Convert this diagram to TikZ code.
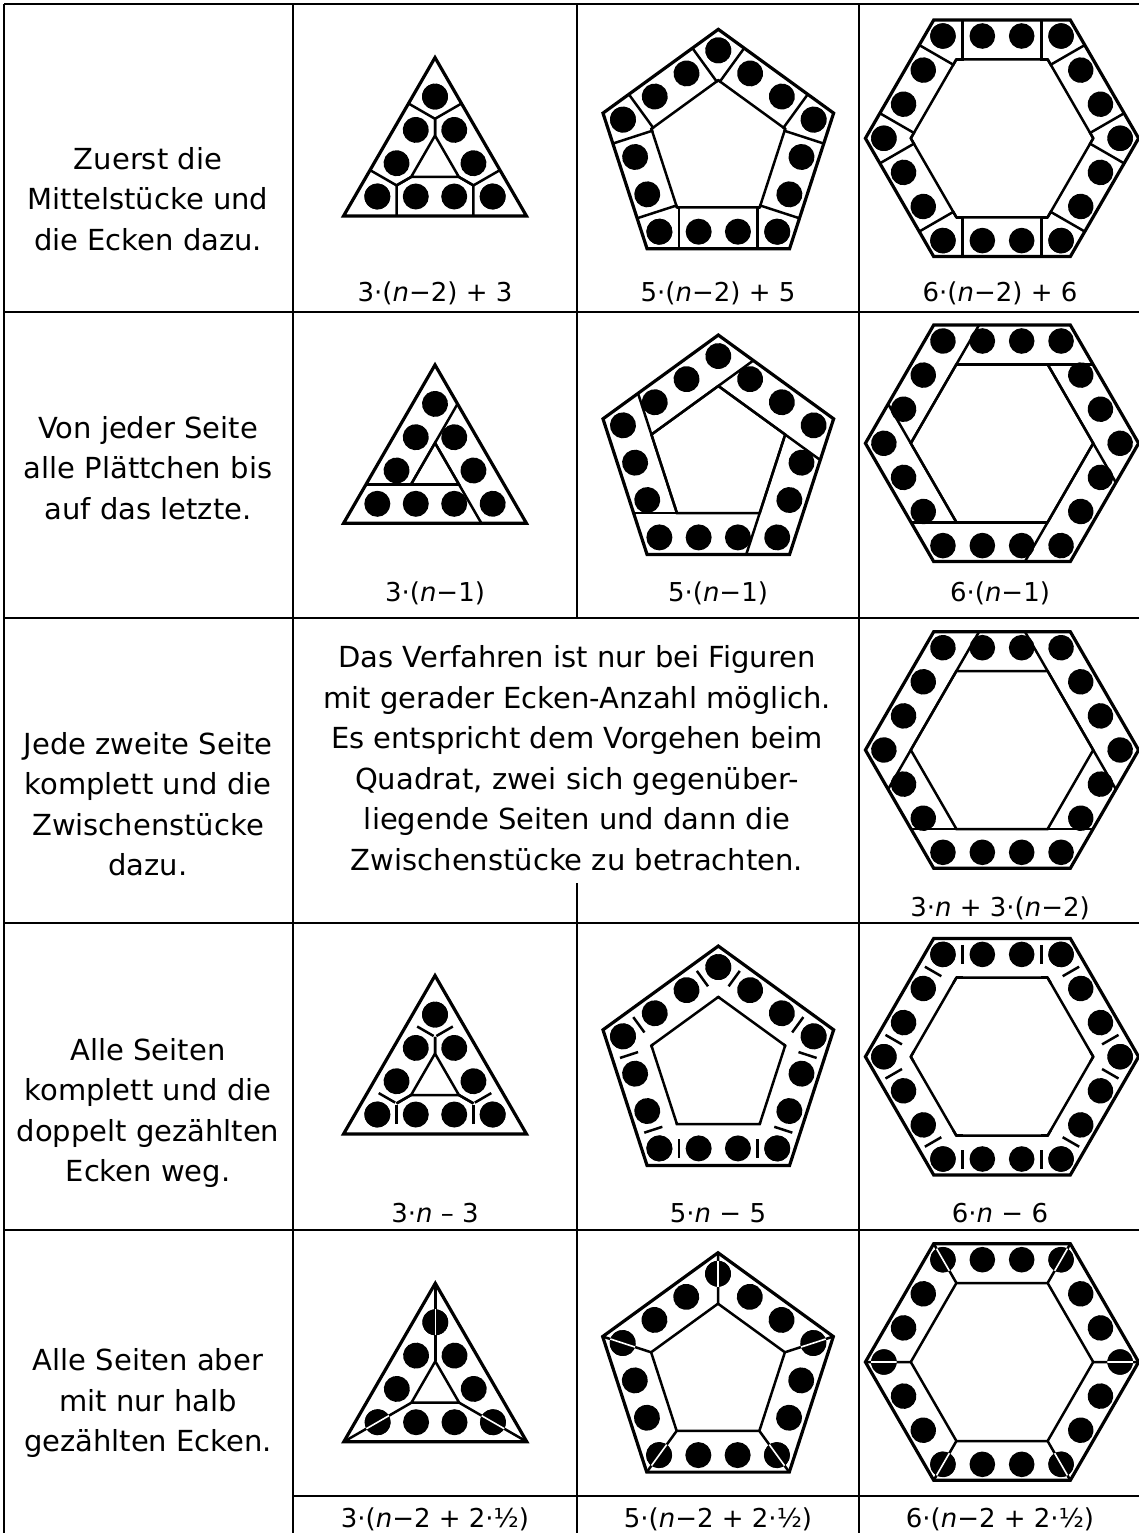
\documentclass[tikz,border=0pt]{standalone}
\usepackage{fontspec}
\setmainfont{DejaVu Sans}

\newcommand{\rgset}[5]{%
  \pgfmathtruncatemacro\rgKK{#1-1}%
  \pgfmathsetmacro\rgA{#2}%
  \pgfmathsetmacro\rgR{#5}%
  \pgfmathsetmacro\rgDa{360/#1}%
  \pgfmathsetmacro\rgAo{-90-180/#1}%
  \pgfmathsetmacro\rgT{tan(180/#1)}%
  \pgfmathsetmacro\rgI{#2-#3}%
  \pgfmathsetmacro\rgMid{#2-#4}%
  \pgfmathsetmacro\rgHO{#2*\rgT}%
  \pgfmathsetmacro\rgHI{\rgI*\rgT}%
  \pgfmathsetmacro\rgHM{\rgMid*\rgT}%
  \pgfmathsetmacro\rgRo{#2/cos(180/#1)}%
  \pgfmathsetmacro\rgRi{\rgI/cos(180/#1)}%
  \pgfmathsetmacro\rgOx{-\rgHO+#3*cot(180-360/#1)}%
  \pgfmathsetmacro\rgOxr{\rgHO-#3*cot(180-360/#1)}%
  \pgfmathsetmacro\rgS{2*\rgHM/3}%
  \pgfmathsetmacro\rgJ{max(\rgI,\rgS*cot(180/#1))}%
  \pgfmathsetmacro\rgTa{\rgMid+9.5}%
  \pgfmathsetmacro\rgTb{\rgMid-9.5}%
  \pgfmathsetmacro\rgWx{#5*cos(-90+180/#1)}%
  \pgfmathsetmacro\rgWy{#5*sin(-90+180/#1)}%
  \pgfmathsetmacro\rgWax{\rgHM+\rgWx}%
  \pgfmathsetmacro\rgWay{-\rgMid+\rgWy}%
  \pgfmathsetmacro\rgWbx{\rgHM-\rgWx}%
  \pgfmathsetmacro\rgWby{-\rgMid-\rgWy}%
}
\newcommand{\rgcorner}{%
  \draw[innerline] (\rgS,-\rgA) -- (\rgS,-\rgJ) -- (\rgHI,-\rgI);
  \draw[innerline] (-\rgS,-\rgA) -- (-\rgS,-\rgJ) -- (-\rgHI,-\rgI);
  \foreach \u in {-1,-1/3,1/3,1} \fill[chip] (\u*\rgHM,-\rgMid) circle (\rgR);}
\newcommand{\rgpinwheel}{%
  \draw[innerline] (\rgOx,-\rgI) -- (\rgHI,-\rgI);
  \foreach \u in {-1,-1/3,1/3} \fill[chip] (\u*\rgHM,-\rgMid) circle (\rgR);}
\newcommand{\rgalternate}{%
  \ifodd\j\relax
    \foreach \u in {-1/3,1/3} \fill[chip] (\u*\rgHM,-\rgMid) circle (\rgR);
  \else
    \draw[innerline] (\rgOx,-\rgI) -- (\rgOxr,-\rgI);
    \foreach \u in {-1,-1/3,1/3,1} \fill[chip] (\u*\rgHM,-\rgMid) circle (\rgR);
  \fi}
\newcommand{\rgdouble}{%
  \draw[innerline] (\rgS,-\rgTa) -- (\rgS,-\rgTb);
  \draw[innerline] (-\rgS,-\rgTa) -- (-\rgS,-\rgTb);
  \draw[innerline] (\rgS,-\rgJ) -- (\rgHI,-\rgI);
  \draw[innerline] (-\rgS,-\rgJ) -- (-\rgHI,-\rgI);
  \foreach \u in {-1,-1/3,1/3,1} \fill[chip] (\u*\rgHM,-\rgMid) circle (\rgR);}
\newcommand{\rghalf}{%
  \draw[innerline] (\rgHO,-\rgA) -- (\rgHI,-\rgI);
  \foreach \u in {-1,-1/3,1/3,1} \fill[chip] (\u*\rgHM,-\rgMid) circle (\rgR);}
\newcommand{\rghalftop}{%
  \draw[splitline] (\rgWax,\rgWay) -- (\rgWbx,\rgWby);}
\newcommand{\rgfig}[3]{%
  \begin{scope}[shift={(#2,#3)}]
    \draw[outerline] (\rgAo:\rgRo) \foreach \q in {1,...,\rgKK}{ -- ({\rgAo+\q*\rgDa}:\rgRo)} -- cycle;
    \draw[innerline] (\rgAo:\rgRi) \foreach \q in {1,...,\rgKK}{ -- ({\rgAo+\q*\rgDa}:\rgRi)} -- cycle;
    \foreach \j in {0,...,\rgKK}{\begin{scope}[rotate=\j*\rgDa]\csname rg#1\endcsname\end{scope}}
    \foreach \j in {0,...,\rgKK}{\begin{scope}[rotate=\j*\rgDa]\csname rg#1top\endcsname\end{scope}}
  \end{scope}}

\begin{document}
\begin{tikzpicture}[x=1pt,y=1pt,tabline/.style={line width=2pt},
  outerline/.style={line width=3.2pt},innerline/.style={line width=2.5pt},
  chip/.style={fill=black},splitline/.style={white,line width=1.6pt}]
  \tikzstyle{every node}=[font=\fontsize{29}{40.5}\selectfont,inner sep=0pt,align=center]
  \tikzstyle{formula}=[anchor=base,font=\fontsize{26}{32}\selectfont]
\useasboundingbox (0,0) rectangle (1139,-1533);
\fill[white] (0,0) rectangle (1139,-1533);

\draw[tabline] (4,-4) -- (1139,-4);
\draw[tabline] (4,-312) -- (1139,-312);
\draw[tabline] (4,-618) -- (1139,-618);
\draw[tabline] (4,-923) -- (1139,-923);
\draw[tabline] (4,-1230) -- (1139,-1230);
\draw[tabline] (293,-1496) -- (1139,-1496);
\draw[tabline] (4,-4) -- (4,-1533);
\draw[tabline] (293,-4) -- (293,-1533);
\draw[tabline] (577,-4) -- (577,-618);
\draw[tabline] (577,-883) -- (577,-1533);
\draw[tabline] (859,-4) -- (859,-1533);

\node (lab1) at (148,-199) {Zuerst die\\Mittelstücke und\\die Ecken dazu.};
\node (lab2) at (148,-468) {Von jeder Seite\\alle Plättchen bis\\auf das letzte.};
\node (lab3) at (148,-804) {Jede zweite Seite\\komplett und die\\Zwischenstücke\\dazu.};
\node (lab4) at (148,-1113) {Alle Seiten\\komplett und die\\doppelt gezählten\\Ecken weg.};
\node (lab5) at (148,-1403) {Alle Seiten aber\\mit nur halb\\gezählten Ecken.};
\node (note) at (577,-758) {Das Verfahren ist nur bei Figuren\\mit gerader Ecken-Anzahl möglich.\\Es entspricht dem Vorgehen beim\\Quadrat, zwei sich gegenüber-\\liegende Seiten und dann die\\Zwischenstücke zu betrachten.};

\node[formula] (r1a) at (435,-301.7) {3·(\textit{n}−2) + 3};
\node[formula] (r1b) at (718,-301.7) {5·(\textit{n}−2) + 5};
\node[formula] (r1c) at (1000,-301.7) {6·(\textit{n}−2) + 6};
\node[formula] (r2a) at (435,-601.7) {3·(\textit{n}−1)};
\node[formula] (r2b) at (718,-601.7) {5·(\textit{n}−1)};
\node[formula] (r2c) at (1000,-601.7) {6·(\textit{n}−1)};
\node[formula] (r3c) at (1000,-916) {3·\textit{n} + 3·(\textit{n}−2)};
\node[formula] (r4a) at (435,-1222) {3·\textit{n} – 3};
\node[formula] (r4b) at (718,-1222) {5·\textit{n} − 5};
\node[formula] (r4c) at (1000,-1222) {6·\textit{n} − 6};
\node[formula] (r5a) at (435,-1527) {3·(\textit{n}−2 + 2·½)};
\node[formula] (r5b) at (718,-1527) {5·(\textit{n}−2 + 2·½)};
\node[formula] (r5c) at (1000,-1527) {6·(\textit{n}−2 + 2·½)};

\rgset{3}{52.8}{39}{19.5}{13}
\rgfig{corner}{435}{-163.2}
\rgfig{pinwheel}{435}{-470.5}
\rgfig{double}{435}{-1081.2}
\rgfig{half}{435.3}{-1388.9}

\rgset{5}{98.1}{41.2}{17}{13}
\rgfig{corner}{718.3}{-150.6}
\rgfig{pinwheel}{718.3}{-456.3}
\rgfig{double}{718.3}{-1067.3}
\rgfig{half}{718}{-1374}

\rgset{6}{118.3}{39.3}{16}{12.8}
\rgfig{corner}{1002}{-138.3}
\rgfig{pinwheel}{1002}{-443.3}
\rgfig{alternate}{1002}{-750}
\rgfig{double}{1002}{-1056.7}
\rgfig{half}{1002}{-1362}
\end{tikzpicture}
\end{document}
